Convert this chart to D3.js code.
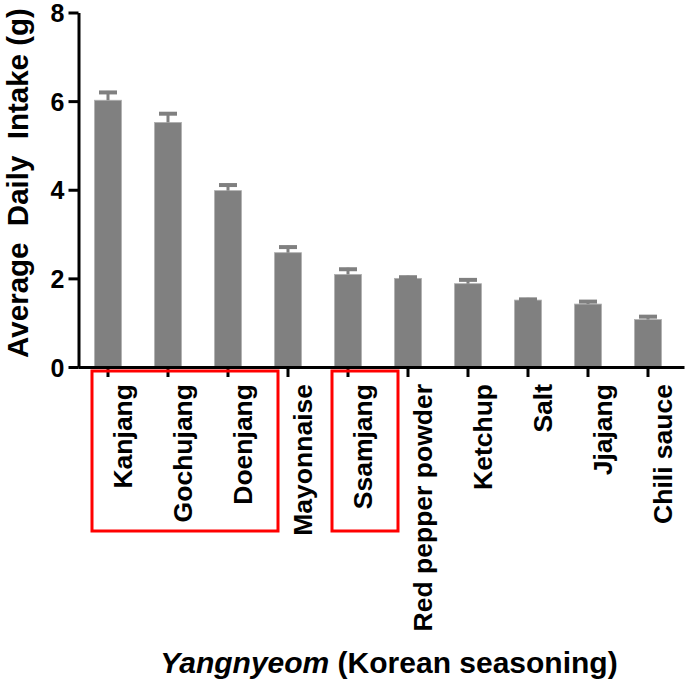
<!DOCTYPE html>
<html>
  <head>
    <meta charset="utf-8" />
    <style>
      body {
        margin: 0;
        background: white;
      }
      svg text {
        font-family: "Liberation Sans", Arial, sans-serif;
        font-weight: bold;
        fill: black;
      }
    </style>
  </head>
  <body>
    <svg width="685" height="690"></svg>
  </body>
  <script src="https://d3js.org/d3.v7.min.js"></script>
  <script>
    // data
    let seasonings = [
      "Kanjang",
      "Gochujang",
      "Doenjang",
      "Mayonnaise",
      "Ssamjang",
      "Red pepper powder",
      "Ketchup",
      "Salt",
      "Jjajang",
      "Chili sauce",
    ];
    let intake = [6.02, 5.52, 3.98, 2.58, 2.09, 2.0, 1.88, 1.51, 1.42, 1.07];
    let sem = [0.21, 0.23, 0.16, 0.16, 0.15, 0.06, 0.12, 0.05, 0.09, 0.1];
    let yTicks = [0, 2, 4, 6, 8];
    // boxed groups
    let boxes = [
      ["Kanjang", "Doenjang"],
      ["Ssamjang", "Ssamjang"],
    ];

    let svg = d3.select("svg");

    let y = d3.scaleLinear().domain([0, 8]).range([367, 12.5]);

    let x = d3
      .scaleBand()
      .domain(seasonings)
      .range([78, 684])
      .paddingInner(0.55)
      .paddingOuter(0.325)
      .align(0.423);

    let barColor = "#808080";

    // bars
    svg
      .append("g")
      .selectAll("rect")
      .data(seasonings)
      .join("rect")
      .attr("x", (d) => x(d))
      .attr("width", x.bandwidth())
      .attr("y", (d, i) => y(intake[i]))
      .attr("height", (d, i) => y(0) - y(intake[i]))
      .attr("fill", barColor)
      .attr("stroke", "#b0b0b0")
      .attr("stroke-width", 0.8);

    // error bars (upper only)
    let err = svg.append("g");
    err
      .selectAll("line.stem")
      .data(seasonings)
      .join("line")
      .attr("class", "stem")
      .attr("x1", (d) => x(d) + x.bandwidth() / 2)
      .attr("x2", (d) => x(d) + x.bandwidth() / 2)
      .attr("y1", (d, i) => y(intake[i]))
      .attr("y2", (d, i) => y(intake[i] + sem[i]))
      .attr("stroke", barColor)
      .attr("stroke-width", 3);
    err
      .selectAll("line.cap")
      .data(seasonings)
      .join("line")
      .attr("class", "cap")
      .attr("x1", (d) => x(d) + x.bandwidth() / 2 - 9)
      .attr("x2", (d) => x(d) + x.bandwidth() / 2 + 9)
      .attr("y1", (d, i) => y(intake[i] + sem[i]) + 1.5)
      .attr("y2", (d, i) => y(intake[i] + sem[i]) + 1.5)
      .attr("stroke", barColor)
      .attr("stroke-width", 4);

    // y axis
    let yAxis = svg
      .append("g")
      .attr("transform", "translate(78.5,0)")
      .call(
        d3
          .axisLeft(y)
          .tickValues(yTicks)
          .tickSize(10)
          .tickSizeOuter(0)
          .tickPadding(4)
      );
    yAxis.selectAll("path, line").attr("stroke", "black").attr("stroke-width", 3);
    yAxis.selectAll("text").style("font-size", "25px").attr("dy", "0.36em");

    // x axis
    let xAxis = svg
      .append("g")
      .attr("transform", `translate(0,${y(0)})`)
      .call(d3.axisBottom(x).tickSize(10).tickSizeOuter(0).tickFormat(""));
    xAxis.selectAll("path, line").attr("stroke", "black").attr("stroke-width", 3);

    // rotated category labels
    svg
      .append("g")
      .selectAll("text")
      .data(seasonings)
      .join("text")
      .attr(
        "transform",
        (d) => `translate(${x(d) + x.bandwidth() / 2 + 24},384) rotate(-90)`
      )
      .attr("text-anchor", "end")
      .style("font-size", "26.5px")
      .text((d) => d);

    // red boxes around groups
    svg
      .append("g")
      .selectAll("rect")
      .data(boxes)
      .join("rect")
      .attr("x", (d) => x(d[0]) + x.bandwidth() / 2 - 16)
      .attr("width", (d) => x(d[1]) - x(d[0]) + 66)
      .attr("y", 371)
      .attr("height", 160)
      .attr("fill", "none")
      .attr("stroke", "#ff0000")
      .attr("stroke-width", 3);

    // axis titles
    svg
      .append("text")
      .attr("transform", "translate(28,183) rotate(-90)")
      .attr("text-anchor", "middle")
      .style("font-size", "29.5px")
      .style("white-space", "pre")
      .text("Average  Daily  Intake (g)");

    let xt = svg
      .append("text")
      .attr("x", 389)
      .attr("y", 673)
      .attr("text-anchor", "middle")
      .style("font-size", "30px");
    xt.append("tspan").style("font-style", "italic").text("Yangnyeom");
    xt.append("tspan").text(" (Korean seasoning)");
  </script>
</html>
